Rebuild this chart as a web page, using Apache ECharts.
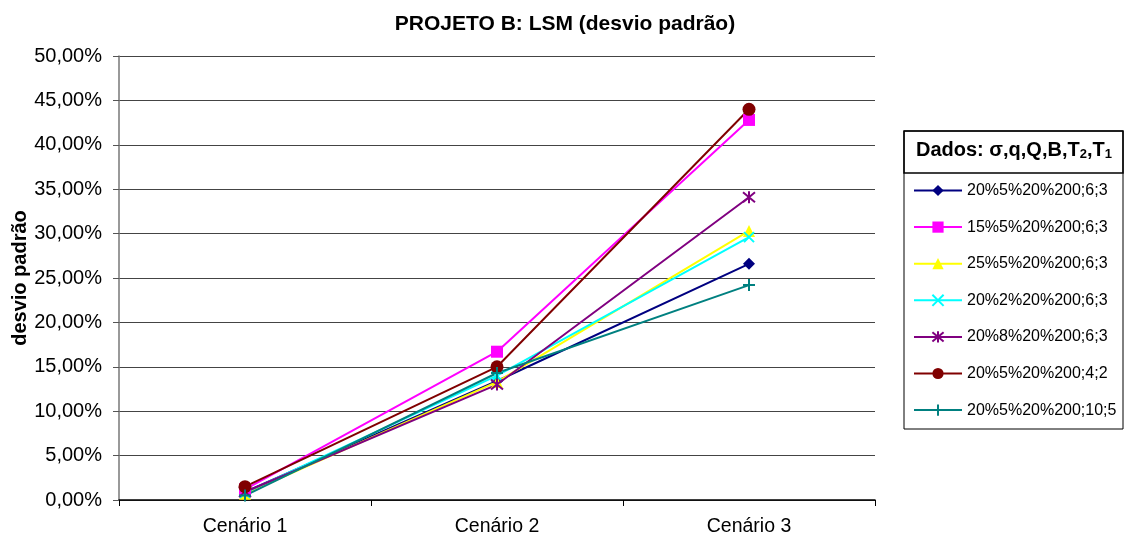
<!DOCTYPE html>
<html>
<head>
<meta charset="utf-8">
<script src="https://cdn.jsdelivr.net/npm/echarts@6/dist/echarts.min.js"></script>
<style>
  html, body { margin: 0; padding: 0; background: #fff; }
  #chart { width: 1125px; height: 545px; }
</style>
</head>
<body>
<div id="chart"></div>
<script>
// cenários no eixo x
const categories = ["Cenário 1", "Cenário 2", "Cenário 3"];

// desvio padrão em %
const s1 = [0.9, 13.4, 26.6];   // 20%5%20%200;6;3
const s2 = [1.2, 16.7, 42.8];   // 15%5%20%200;6;3
const s3 = [0.7, 13.3, 30.3];   // 25%5%20%200;6;3
const s4 = [0.8, 14.0, 29.6];   // 20%2%20%200;6;3
const s5 = [0.9, 13.0, 34.1];   // 20%8%20%200;6;3
const s6 = [1.5, 15.0, 44.0];   // 20%5%20%200;4;2
const s7 = [0.5, 14.3, 24.2];   // 20%5%20%200;10;5

const names = [
    "20%5%20%200;6;3",
    "15%5%20%200;6;3",
    "25%5%20%200;6;3",
    "20%2%20%200;6;3",
    "20%8%20%200;6;3",
    "20%5%20%200;4;2",
    "20%5%20%200;10;5"
];

const chart = echarts.init(document.getElementById("chart"));

const mkSeries = (name, data, color, symbol, size, stroke) => {
    return {
        name: name,
        type: "line",
        data: data,
        symbol: symbol,
        symbolSize: size,
        showAllSymbol: true,
        lineStyle: { color: color, width: 2 },
        itemStyle: {
            color: color,
            borderColor: color,
            borderWidth: stroke ? 2 : 0
        },
        emphasis: { disabled: true },
        z: 2
    };
};

const option = {
    animation: false,
    textStyle: { fontFamily: "Liberation Sans, Arial, sans-serif" },
    title: {
        text: "PROJETO B: LSM (desvio padrão)",
        left: 560,
        top: 9,
        textAlign: "center",
        textStyle: { fontSize: 21, fontWeight: "bold", color: "#000" }
    },
    grid: {
        left: 119, right: 250, top: 56, bottom: 45,
        containLabel: false,
        outerBoundsMode: "none"
    },
    xAxis: {
        type: "category",
        data: categories,
        boundaryGap: true,
        axisLine: { lineStyle: { color: "#000", width: 1.5 } },
        axisTick: { show: true, alignWithLabel: false, length: 6, lineStyle: { color: "#000" } },
        axisLabel: { fontSize: 19.5, color: "#000", margin: 17 }
    },
    yAxis: {
        type: "value",
        min: 0,
        max: 50,
        interval: 5,
        name: "desvio padrão",
        nameLocation: "middle",
        nameGap: 89,
        nameMoveOverlap: false,
        nameTextStyle: { fontSize: 20, fontWeight: "bold", color: "#000" },
        axisLine: { show: true, lineStyle: { color: "#777", width: 1.5 } },
        axisTick: { show: true, length: 6, inside: false, lineStyle: { color: "#555" } },
        axisLabel: {
            fontSize: 20,
            color: "#000",
            margin: 17,
            formatter: v => v.toFixed(2).replace(".", ",") + "%"
        },
        splitLine: { show: true, lineStyle: { color: "#444", width: 1 } }
    },
    legend: {
        orient: "vertical",
        left: 913,
        top: 182.5,
        padding: 0,
        itemWidth: 48,
        itemHeight: 14,
        itemGap: 20.6,
        textStyle: { fontSize: 16, color: "#000" },
        data: names
    },
    graphic: [
        {
            type: "rect",
            shape: { x: 904, y: 131, width: 219, height: 298 },
            style: { fill: "#fff", stroke: "#000", lineWidth: 1 },
            z: -1
        },
        {
            type: "rect",
            shape: { x: 904, y: 131, width: 219, height: 42 },
            style: { fill: "none", stroke: "#000", lineWidth: 1.5 }
        },
        {
            type: "text",
            left: 916,
            top: 140,
            style: {
                text: "Dados: σ,q,Q,B,T{s|2},T{s|1}",
                font: "bold 20px Liberation Sans, Arial, sans-serif",
                fill: "#000",
                rich: {
                    s: { fontSize: 13, fontWeight: "bold", verticalAlign: "bottom", padding: [9, 0, 0, 0] }
                }
            }
        }
    ],
    series: [
        mkSeries(names[0], s1, "#000080", "diamond", 12, false),
        mkSeries(names[1], s2, "#FF00FF", "rect", 12, false),
        mkSeries(names[2], s3, "#FFFF00", "triangle", 12, false),
        mkSeries(names[3], s4, "#00FFFF", "path://M0,0L10,10M10,0L0,10", 10, true),
        mkSeries(names[4], s5, "#800080", "path://M0,0L10,10M10,0L0,10M5,-1L5,11", 12, true),
        mkSeries(names[5], s6, "#800000", "circle", 13, false),
        mkSeries(names[6], s7, "#008080", "path://M5,0L5,10M0,5L10,5", 12, true)
    ]
};

chart.setOption(option);
</script>
</body>
</html>
